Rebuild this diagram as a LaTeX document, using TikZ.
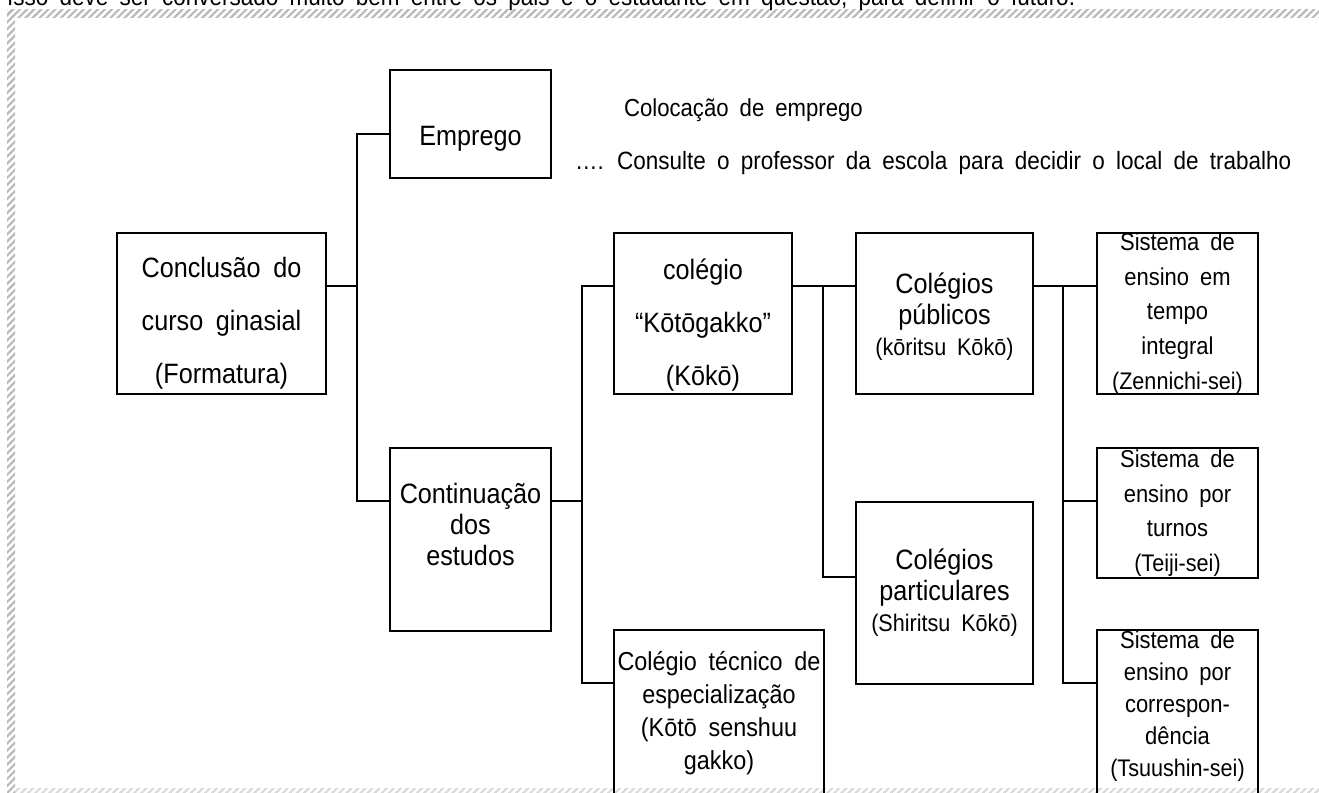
\documentclass[tikz,border=0pt]{standalone}
\usepackage{fontspec}
\setmainfont{Liberation Sans}[FakeStretch=0.9,WordSpace=1.8]
\usetikzlibrary{patterns.meta}
\tikzset{box/.style 2 args={draw, line width=1pt, anchor=north west, align=center, inner sep=0pt, minimum width=#1*0.5pt, minimum height=#2*0.5pt}}
\tikzset{bigtxt/.style={font=\fontsize{14}{26.5}\selectfont}, midtxt/.style={font=\fontsize{14}{15.5}\selectfont}, systxt/.style={font=\fontsize{12.2}{17.3}\selectfont}}
\tikzset{hatch/.style={pattern={Lines[angle=45,distance=2.5pt,line width=1.1pt]}, pattern color=gray!55}}
\newcommand{\subtxt}[1]{{\fontsize{12}{15}\selectfont #1}}
\newcommand{\padtop}[1]{\rule{0pt}{#1}}
\newcommand{\padbot}[1]{\rule[-#1]{0pt}{#1}}

\begin{document}
\begin{tikzpicture}[x=0.5pt,y=-0.5pt]
                \useasboundingbox (0,0) rectangle (1319,793);
                \clip (0,0) rectangle (1319,793);
                % edge of the page
                \fill[hatch] (7,9) rectangle (1319,17);
                \fill[hatch] (7,9) rectangle (15,793);
                \fill[hatch, pattern color=gray!30] (15,788) rectangle (1319,793);
                \node[anchor=base west, font=\fontsize{12.5}{15}\selectfont] (intro) at (0,5) {Isso deve ser conversado muito bem entre os pais e o estudante em questão, para definir o futuro.};

                % boxes
                \node[box={209}{161}, bigtxt] (conc) at (116,232) {\padtop{20pt}Conclusão do\\curso ginasial\\(Formatura)};
                \node[box={161}{108}, midtxt] (emp) at (389,69) {\padtop{24pt}Emprego};
                \node[box={161}{183}, midtxt] (cont) at (389,447) {Continuação\\dos\\estudos\padbot{15pt}};
                \node[box={178}{161}, bigtxt] (kog) at (613,232) {\padtop{22pt}colégio\\“Kōtōgakko”\\(Kōkō)};
                \node[box={210}{166}, font=\fontsize{13}{16.5}\selectfont] (tec) at (613,629) {Colégio técnico de\\especialização\\(Kōtō senshuu\\gakko)};
                \node[box={177}{161}, midtxt] (pub) at (855,232) {\padtop{13pt}Colégios\\públicos\\\subtxt{(kōritsu Kōkō)}};
                \node[box={177}{182}, midtxt] (part) at (855,501) {Colégios\\particulares\\\subtxt{(Shiritsu Kōkō)}};
                \node[box={161}{161}, systxt] (zen) at (1096,232) {Sistema de\\ensino em\\tempo\\integral\\\subtxt{(Zennichi-sei)}};
                \node[box={161}{130}, systxt] (tei) at (1096,447) {Sistema de\\ensino por\\turnos\\\subtxt{(Teiji-sei)}};
                \node[box={161}{166}, font=\fontsize{12.2}{16}\selectfont] (tsu) at (1096,629) {Sistema de\\ensino por\\correspon-\\dência\\\subtxt{(Tsuushin-sei)}\padbot{9pt}};

                \node[anchor=west, font=\fontsize{12.3}{15}\selectfont] (coloc) at (617,110) {Colocação de emprego};
                \node[anchor=west, font=\fontsize{12.5}{15}\selectfont] (cons) at (568,163) {…. Consulte o professor da escola para decidir o local de trabalho};

                % connectors
                \coordinate (bus1) at (357,0);
                \coordinate (bus2) at (582,0);
                \coordinate (bus3) at (823,0);
                \coordinate (bus4) at (1063,0);
                \draw[line width=1pt] ([shift={(0,54)}]conc.north east) coordinate (c1) -- (c1 -| bus1) |- ([shift={(0,65)}]emp.north west);
                \draw[line width=1pt] (c1 -| bus1) |- ([shift={(0,54)}]cont.north west);
                \draw[line width=1pt] ([shift={(0,54)}]cont.north east) coordinate (c2) -- (c2 -| bus2) |- ([shift={(0,54)}]kog.north west);
                \draw[line width=1pt] (c2 -| bus2) |- ([shift={(0,54)}]tec.north west);
                \draw[line width=1pt] ([shift={(0,54)}]kog.north east) coordinate (c3) -- ([shift={(0,54)}]pub.north west);
                \draw[line width=1pt] (c3 -| bus3) |- ([shift={(0,76)}]part.north west);
                \draw[line width=1pt] ([shift={(0,54)}]pub.north east) coordinate (c4) -- ([shift={(0,54)}]zen.north west);
                \draw[line width=1pt] (c4 -| bus4) |- ([shift={(0,54)}]tei.north west);
                \draw[line width=1pt] (c4 -| bus4) |- ([shift={(0,54)}]tsu.north west);
\end{tikzpicture}
\end{document}
